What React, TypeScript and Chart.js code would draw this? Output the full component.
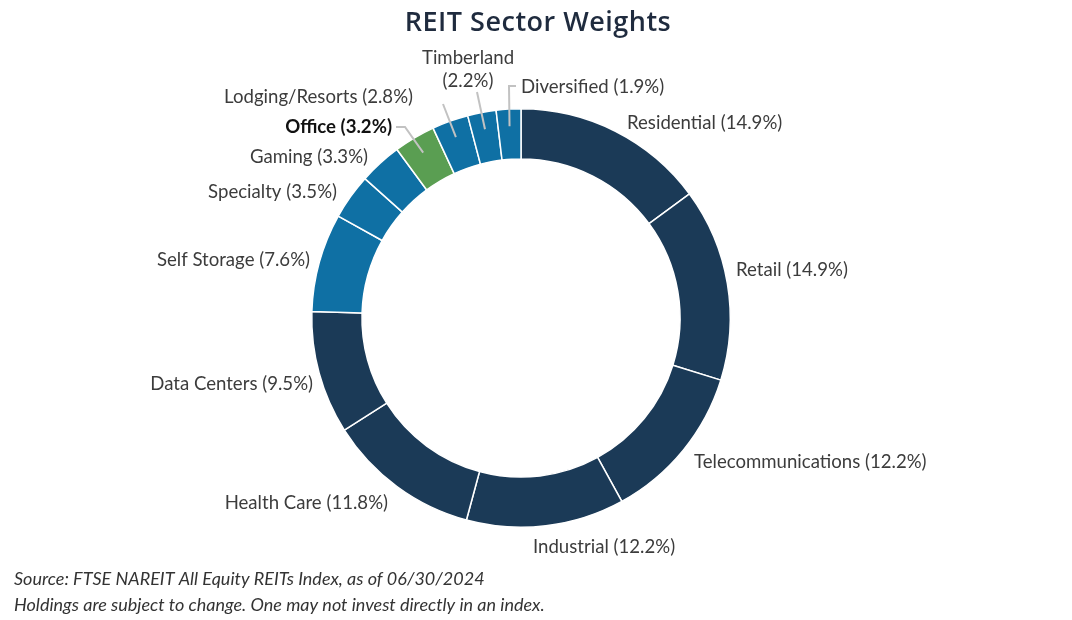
import React, { useEffect, useRef } from "react";
import { Chart, registerables } from "chart.js";

Chart.register(...registerables);

// ---------- data ----------
const categories = [
  "Residential",
  "Retail",
  "Telecommunications",
  "Industrial",
  "Health Care",
  "Data Centers",
  "Self Storage",
  "Specialty",
  "Gaming",
  "Office",
  "Lodging/Resorts",
  "Timberland",
  "Diversified",
];
const weights = [14.9, 14.9, 12.2, 12.2, 11.8, 9.5, 7.6, 3.5, 3.3, 3.2, 2.8, 2.2, 1.9];
const highlighted = ["Office"];

const titleText = "REIT Sector Weights";
const footerLines = [
  "Source: FTSE NAREIT All Equity REITs Index, as of 06/30/2024",
  "Holdings are subject to change. One may not invest directly in an index.",
];

// ---------- styles ----------
const NAVY = "#1b3a57";
const BLUE = "#0f70a4";
const GREEN = "#5a9e52";
const sliceColors = [NAVY, NAVY, NAVY, NAVY, NAVY, NAVY, BLUE, BLUE, BLUE, GREEN, BLUE, BLUE, BLUE];

const LABEL_FONT = "Lato";
const LABEL_SIZE = 18.6;

// label placement relative to ring centre
type Place = { dx: number; dy: number; align: CanvasTextAlign; two?: boolean; leader?: [number, number][] };
const labelPlaces: Place[] = [
  { dx: 106, dy: -195, align: "left" },
  { dx: 215, dy: -48, align: "left" },
  { dx: 173, dy: 144, align: "left" },
  { dx: 12, dy: 229, align: "left" },
  { dx: -133, dy: 185, align: "right" },
  { dx: -208, dy: 66, align: "right" },
  { dx: -211, dy: -58, align: "right" },
  { dx: -184, dy: -126, align: "right" },
  { dx: -153, dy: -161, align: "right" },
  { dx: -129, dy: -191, align: "right", leader: [[-125, -191], [-116, -191]] },
  { dx: -108, dy: -221, align: "right", leader: [[-78, -214]] },
  { dx: -53, dy: -260, align: "center", two: true, leader: [[-44, -226]] },
  { dx: 0, dy: -231, align: "left", leader: [[-5, -232], [-12, -232]] },
];

const labelPlugin = {
  id: "sectorLabels",
  afterDraw(chart: any) {
    const ctx = chart.ctx as CanvasRenderingContext2D;
    const meta = chart.getDatasetMeta(0);
    const arcs = meta.data;
    if (!arcs.length) return;
    const cx = arcs[0].x;
    const cy = arcs[0].y;
    ctx.save();

    // title
    ctx.fillStyle = "#1f2b3e";
    ctx.font = "600 27px 'Open Sans'";
    (ctx as any).letterSpacing = "0.5px";
    ctx.textAlign = "center";
    ctx.textBaseline = "alphabetic";
    ctx.fillText(titleText, 538, 31);
    (ctx as any).letterSpacing = "0px";

    // labels
    ctx.textBaseline = "middle";
    categories.forEach((name, i) => {
      const p = labelPlaces[i];
      const arc = arcs[i];
      const pct = "(" + weights[i].toFixed(1) + "%)";
      const bold = highlighted.includes(name);
      ctx.font = (bold ? "700 " : "400 ") + LABEL_SIZE + "px " + LABEL_FONT;
      ctx.fillStyle = bold ? "#111111" : "#3c3c3c";
      ctx.textAlign = p.align;
      if (p.two) {
        ctx.fillText(name, cx + p.dx, cy + p.dy);
        ctx.fillText(pct, cx + p.dx, cy + p.dy + 23);
      } else {
        ctx.fillText(name + " " + pct, cx + p.dx, cy + p.dy);
      }
      if (p.leader) {
        const mid = (arc.startAngle + arc.endAngle) / 2;
        const r = arc.innerRadius + 0.66 * (arc.outerRadius - arc.innerRadius);
        const ex = cx + r * Math.cos(mid);
        const ey = cy + r * Math.sin(mid);
        ctx.strokeStyle = "#c2c2c2";
        ctx.lineWidth = 2;
        ctx.beginPath();
        p.leader.forEach((pt, k) => {
          const x = cx + pt[0];
          const y = cy + pt[1];
          if (k === 0) ctx.moveTo(x, y);
          else ctx.lineTo(x, y);
        });
        ctx.lineTo(ex, ey);
        ctx.stroke();
      }
    });

    // footer
    ctx.fillStyle = "#333333";
    ctx.font = "italic 400 18px Lato";
    ctx.textAlign = "left";
    ctx.textBaseline = "middle";
    footerLines.forEach((line, k) => ctx.fillText(line, 14, 579 + k * 26));
    ctx.restore();
  },
};

export default function App() {
  const ref = useRef<HTMLCanvasElement | null>(null);
  useEffect(() => {
    document.body.style.margin = "0";
    const canvas = ref.current;
    if (!canvas) return;
    const chart = new Chart(canvas, {
      type: "doughnut",
      data: {
        labels: categories,
        datasets: [
          {
            data: weights,
            backgroundColor: sliceColors,
            borderColor: "#ffffff",
            borderWidth: 1.5,
            hoverOffset: 0,
          },
        ],
      },
      options: {
        responsive: false,
        animation: false,
        cutout: "76%",
        rotation: 0,
        layout: { padding: { left: 311, right: 341, top: 108, bottom: 92 } },
        plugins: {
          legend: { display: false },
          tooltip: { enabled: false },
          title: { display: false },
        },
      },
      plugins: [labelPlugin],
    });
    return () => chart.destroy();
  }, []);
  return (
    <div style={{ width: 1072, height: 620, background: "#ffffff" }}>
      <canvas ref={ref} width={1072} height={620} style={{ display: "block" }} />
    </div>
  );
}
